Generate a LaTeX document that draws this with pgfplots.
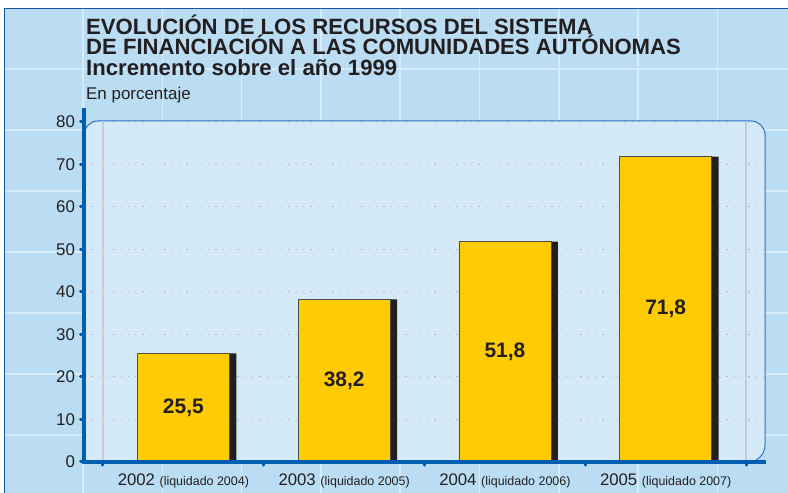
\documentclass[border=0pt]{standalone}
\usepackage{pgfplots}
\pgfplotsset{compat=1.18}
\usepackage{pgfplotstable}
\usepackage{fontspec}
\setmainfont{Liberation Sans}
\definecolor{bgblue}{RGB}{186,221,244}
\definecolor{bgline}{RGB}{214,236,251}
\definecolor{panelfill}{RGB}{213,234,248}
\definecolor{axblue}{RGB}{0,94,178}
\definecolor{pborder}{RGB}{40,115,195}
\definecolor{frameblue}{RGB}{20,85,155}
\definecolor{baryellow}{RGB}{255,203,5}
\definecolor{shadow}{RGB}{35,31,32}
\definecolor{txt}{RGB}{35,31,32}

\pgfplotstableread{
x y half label
0 25.5 12.75 25,5
1 38.2 19.1 38,2
2 51.8 25.9 51,8
3 71.8 35.9 71,8
}\datatable

\begin{document}
\begin{tikzpicture}
\path[use as bounding box] (0,0) rectangle (788bp,493bp);
\begin{scope}[x=1bp,y=1bp]
\clip (0,0) rectangle (788,493);
\fill[white] (0,0) rectangle (788,493);
\fill[bgblue] (4,-5) rectangle (800,485);
\foreach \gx in {83,162.3,241.6,320.9,400.2,479.5,558.8,638.1,717.4}
  \draw[bgline, line width=1.5] (\gx,-5) -- (\gx,485);
\foreach \gy in {69,130,191,252,313,374,435}
  \draw[bgline, line width=1.5] (4,493-\gy) -- (800,493-\gy);
\draw[frameblue, line width=2] (4.5,-5) -- (4.5,484.5) -- (800,484.5);
% panel fill
\fill[panelfill] (84,31) [rounded corners=14] -- (84,372) -- (765,372) [rounded corners=17] -- (765,31) [sharp corners] -- cycle;
% titles
\node[anchor=base west, inner sep=0, font=\fontsize{22.2}{22.2}\selectfont\bfseries, text=txt] at (86,458.7) {EVOLUCIÓN DE LOS RECURSOS DEL SISTEMA};
\node[anchor=base west, inner sep=0, font=\fontsize{22.2}{22.2}\selectfont\bfseries, text=txt] at (86,438) {DE FINANCIACIÓN A LAS COMUNIDADES AUTÓNOMAS};
\node[anchor=base west, inner sep=0, font=\fontsize{22.2}{22.2}\selectfont\bfseries, text=txt] at (86,417) {Incremento sobre el año 1999};
\node[anchor=base west, inner sep=0, font=\fontsize{17}{17}\selectfont, text=txt] at (86,393) {En porcentaje};
\end{scope}

\begin{axis}[
  at={(84bp,31.3bp)}, anchor=south west,
  scale only axis, width=681bp, height=340bp,
  xmin=-0.618, xmax=3.618, ymin=0, ymax=80,
  clip=false,
  axis line style={draw=none},
  /pgf/number format/assume math mode=true,
  tick align=outside,
  ytick={0,10,...,80}, ytick pos=left,
  y tick style={draw=axblue, line width=3bp, line cap=round},
  major tick length=3.5bp,
  yticklabel style={font=\fontsize{17}{17}\selectfont, text=txt, xshift=-2bp},
  xtick={-0.5,0.5,1.5,2.5,3.5}, xticklabels={}, xtick pos=bottom,
  x tick style={draw=axblue, line width=3bp, line cap=round},
  extra x ticks={0,1,2,3},
  extra x tick labels={
    {2002 {\fontsize{12.5}{12.5}\selectfont(liquidado 2004)}},
    {2003 {\fontsize{12.5}{12.5}\selectfont(liquidado 2005)}},
    {2004 {\fontsize{12.5}{12.5}\selectfont(liquidado 2006)}},
    {2005 {\fontsize{12.5}{12.5}\selectfont(liquidado 2007)}}},
  extra x tick style={major tick length=0pt, x tick style={draw=none},
    xticklabel style={anchor=base, yshift=-24.3bp, font=\fontsize{16.8}{16.8}\selectfont, text=txt}},
  ymajorgrids,
  grid style={draw=gray!55, line width=1.3bp, dash pattern=on 1.3bp off 6bp},
]
\draw[gray!40, line width=1.6bp] (axis cs:-0.5,0) -- (axis cs:-0.5,80);
\draw[gray!40, line width=1.6bp] (axis cs:3.5,0) -- (axis cs:3.5,80);
\addplot[ybar, bar width=7bp, bar shift=49.5bp, fill=shadow, draw=none] table[x=x,y=y]{\datatable};
\addplot[ybar, bar width=92bp, bar shift=0bp, fill=baryellow, draw=black!70, line width=0.7bp] table[x=x,y=y]{\datatable};
\addplot[draw=none, nodes near coords, point meta=explicit symbolic,
  nodes near coords style={anchor=center, font=\fontsize{21}{21}\selectfont\bfseries, text=txt}]
  table[x=x, y=half, meta=label]{\datatable};
\end{axis}

\begin{scope}[x=1bp,y=1bp]
\draw[pborder, line width=1bp] (84,31) [rounded corners=14] -- (84,372) -- (765,372) [rounded corners=17] -- (765,31) [sharp corners] -- cycle;
\draw[axblue, line width=3.2bp] (84,385) -- (84,31) -- (766,31);
\end{scope}
\end{tikzpicture}
\end{document}
